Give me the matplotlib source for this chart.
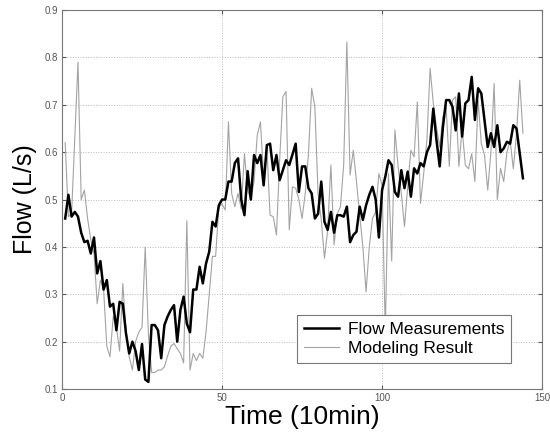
import numpy as np
import matplotlib
matplotlib.use("Agg")
import matplotlib.pyplot as plt

plt.rcParams['font.family'] = ['Liberation Sans', 'DejaVu Sans']

# flow measurements (L/s), one per 10 min step
flow_meas = [0.46, 0.51, 0.464, 0.474, 0.464, 0.43, 0.41, 0.413, 0.386, 0.42,
             0.344, 0.37, 0.31, 0.33, 0.274, 0.28, 0.224, 0.284, 0.28, 0.217,
             0.175, 0.20, 0.18, 0.14, 0.195, 0.12, 0.115, 0.235, 0.235, 0.224,
             0.165, 0.235, 0.253, 0.267, 0.277, 0.20, 0.267, 0.295, 0.238, 0.22,
             0.31, 0.31, 0.358, 0.323, 0.365, 0.39, 0.453, 0.443, 0.488, 0.50,
             0.50, 0.538, 0.538, 0.577, 0.587, 0.50, 0.467, 0.56, 0.50, 0.594,
             0.577, 0.594, 0.53, 0.615, 0.618, 0.562, 0.594, 0.541, 0.562, 0.583,
             0.573, 0.595, 0.618, 0.516, 0.57, 0.57, 0.524, 0.513, 0.46, 0.47,
             0.538, 0.453, 0.436, 0.474, 0.43, 0.467, 0.467, 0.464, 0.485, 0.41,
             0.425, 0.432, 0.485, 0.457, 0.488, 0.51, 0.527, 0.50, 0.42, 0.52,
             0.548, 0.583, 0.573, 0.516, 0.506, 0.562, 0.524, 0.559, 0.506, 0.566,
             0.555, 0.577, 0.57, 0.60, 0.615, 0.692, 0.625, 0.57, 0.653, 0.71,
             0.71, 0.696, 0.646, 0.724, 0.633, 0.703, 0.71, 0.759, 0.668, 0.735,
             0.724, 0.668, 0.611, 0.64, 0.611, 0.657, 0.60, 0.608, 0.622, 0.618,
             0.657, 0.65, 0.597, 0.545]

# model output
model_res = [0.62, 0.464, 0.47, 0.63, 0.79, 0.50, 0.52, 0.46, 0.415, 0.386,
             0.28, 0.33, 0.31, 0.19, 0.168, 0.253, 0.23, 0.18, 0.323, 0.224,
             0.168, 0.14, 0.20, 0.22, 0.23, 0.40, 0.215, 0.135, 0.135, 0.14,
             0.14, 0.147, 0.17, 0.19, 0.196, 0.185, 0.175, 0.155, 0.455, 0.14,
             0.175, 0.16, 0.175, 0.165, 0.22, 0.30, 0.38, 0.38, 0.485, 0.49,
             0.478, 0.664, 0.513, 0.485, 0.513, 0.48, 0.597, 0.52, 0.50, 0.538,
             0.636, 0.664, 0.548, 0.61, 0.467, 0.464, 0.425, 0.583, 0.717, 0.728,
             0.436, 0.527, 0.524, 0.50, 0.46, 0.513, 0.597, 0.735, 0.696, 0.513,
             0.457, 0.376, 0.436, 0.573, 0.404, 0.47, 0.485, 0.573, 0.833, 0.552,
             0.604, 0.538, 0.467, 0.40, 0.305, 0.40, 0.46, 0.474, 0.555, 0.53,
             0.22, 0.555, 0.37, 0.647, 0.57, 0.513, 0.443, 0.527, 0.604, 0.59,
             0.706, 0.492, 0.555, 0.625, 0.777, 0.703, 0.653, 0.611, 0.675, 0.696,
             0.57, 0.71, 0.717, 0.57, 0.65, 0.573, 0.565, 0.597, 0.538, 0.71,
             0.618, 0.594, 0.52, 0.60, 0.745, 0.50, 0.566, 0.538, 0.60, 0.625,
             0.565, 0.64, 0.752, 0.64]

time = np.arange(1, len(flow_meas) + 1)

xticks = [0, 50, 100, 150]
yticks = [0.1, 0.2, 0.3, 0.4, 0.5, 0.6, 0.7, 0.8, 0.9]

fig = plt.figure(figsize=(5.5, 4.34), dpi=100)
ax = fig.add_axes([0.1127, 0.1037, 0.873, 0.873])

ax.plot(time, flow_meas, color='black', lw=1.8, label='Flow Measurements', zorder=3)
ax.plot(time, model_res, color='#a3a3a3', lw=0.8, label='Modeling Result', zorder=2)

ax.set_xlim(0, 150)
ax.set_ylim(0.1, 0.9)
ax.set_xticks(xticks)
ax.set_yticks(yticks)
ax.set_yticklabels(['%g' % v for v in yticks])
ax.tick_params(direction='in', length=3, labelsize=7, colors='#555555',
               top=True, right=True, pad=3)
ax.grid(True, linestyle=':', color='#bbbbbb', lw=0.7)
for s in ax.spines.values():
    s.set_color('#777777')
    s.set_linewidth(0.8)

ax.set_xlabel('Time (10min)', fontsize=19, labelpad=1)
ax.set_ylabel('Flow (L/s)', fontsize=18, labelpad=5)

leg = ax.legend(loc='lower left', bbox_to_anchor=(0.49, 0.069), fontsize=12.5,
                fancybox=False, framealpha=1, edgecolor='#777777',
                borderaxespad=0, borderpad=0.4, handlelength=2.0,
                handletextpad=0.5, labelspacing=0.2)
leg.get_frame().set_linewidth(0.8)
leg.set_zorder(5)

fig.savefig('out.png', dpi=100)
